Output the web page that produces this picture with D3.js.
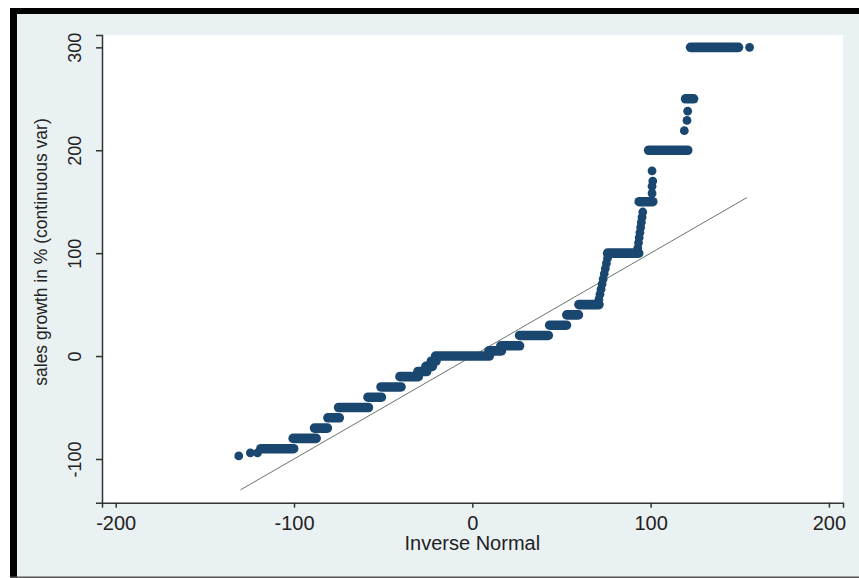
<!DOCTYPE html>
<html>
<head>
<meta charset="utf-8">
<script src="https://cdn.jsdelivr.net/npm/d3@7"></script>
<style>
    html, body { margin: 0; padding: 0; background: #ffffff; }
    svg { display: block; font-family: "Liberation Sans", Arial, sans-serif; }
</style>
</head>
<body>
<div id="chart"></div>
<script>
// 軸の目盛り
const xTicks = [-200, -100, 0, 100, 200];
const yTicks = [-100, 0, 100, 200, 300];

// 同値が続く区間（点が重なって帯に見える部分）
const runLevel = [-90, -80, -70, -60, -50, -40, -30, -20, -15, -10, -5, 0, 5, 10, 20, 30, 40, 50, 100, 150, 200, 250, 300];
const runFrom  = [-118.6, -100.5, -88.5, -81, -75, -58.5, -51.2, -40.6, -30.5, -26, -23, -20.6, 9.3, 16, 26.5, 43.4, 53, 59.8, 75.9, 93.6, 98.9, 119.6, 122.4];
const runTo    = [-100.2, -87.6, -81.3, -74.6, -58.3, -51, -40, -30.3, -25.6, -22.4, -20.4, 9.5, 16.3, 26.5, 42.6, 52.8, 59.5, 71, 93.3, 101.2, 120.8, 124.1, 149.3];

// 単独の点
const pointX = [-131, -124.5, -120.5, 71, 71.6, 72.2, 72.8, 73.4, 74, 74.6, 75.2, 75.8,
                92.8, 93.2, 93.6, 94, 94.4, 94.8, 95.2, 95.6, 100.8, 100.8, 101.2, 100.8,
                118.9, 120.4, 120.8, 148.8, 155.5];
const pointY = [-97, -94, -94, 55, 60, 65, 70, 75, 80, 85, 90, 95,
                105, 110, 115, 120, 125, 130, 135, 140, 158, 165, 170, 180,
                219, 229, 238, 300, 300];

// 参照線 (y = x)
const refX = [-130, 154];
const refY = [-130, 154];

const W = 859, H = 578;
const plot = { left: 102, right: 843, top: 35, bottom: 502.7 };
const dotColor = '#1a476f';

const svg = d3.select('#chart')
    .append('svg')
    .attr('width', W)
    .attr('height', H);

// 背景と枠
svg.append('rect').attr('width', W).attr('height', H).attr('fill', '#ffffff');
svg.append('rect').attr('x', 10).attr('y', 8).attr('width', W - 10).attr('height', H - 8).attr('fill', '#000000');
svg.append('rect').attr('x', 17).attr('y', 14).attr('width', W - 17).attr('height', H - 15).attr('fill', '#eaf1f3');
svg.append('rect').attr('x', 10).attr('y', H - 1.5).attr('width', W - 10).attr('height', 1.5).attr('fill', '#555555');

// プロット領域
svg.append('rect')
    .attr('x', plot.left)
    .attr('y', plot.top)
    .attr('width', plot.right - plot.left)
    .attr('height', plot.bottom - plot.top)
    .attr('fill', '#ffffff');

// スケール
const x = d3.scaleLinear().domain([-207.7, 207.9]).range([plot.left, plot.right]);
const y = d3.scaleLinear().domain([-142.5, 312]).range([plot.bottom, plot.top]);

// 参照線
svg.append('line')
    .attr('x1', x(refX[0])).attr('y1', y(refY[0]))
    .attr('x2', x(refX[1])).attr('y2', y(refY[1]))
    .attr('stroke', '#6a766a')
    .attr('stroke-width', 1);

// 重なった点の帯
svg.append('g')
    .selectAll('line')
    .data(runLevel.map((v, i) => ({ v, a: runFrom[i], b: runTo[i] })))
    .enter()
    .append('line')
    .attr('x1', d => x(d.a)).attr('x2', d => x(d.b))
    .attr('y1', d => y(d.v)).attr('y2', d => y(d.v))
    .attr('stroke', dotColor)
    .attr('stroke-width', 9.6)
    .attr('stroke-linecap', 'round');

// 単独の点
svg.append('g')
    .selectAll('circle')
    .data(pointX.map((px, i) => ({ px, py: pointY[i] })))
    .enter()
    .append('circle')
    .attr('cx', d => x(d.px))
    .attr('cy', d => y(d.py))
    .attr('r', 4.4)
    .attr('fill', dotColor);

// x軸
const xAxis = svg.append('g')
    .attr('transform', `translate(0,${plot.bottom})`)
    .call(d3.axisBottom(x).tickValues(xTicks).tickSize(5).tickPadding(8).tickFormat(d3.format('d')));
xAxis.select('.domain').attr('stroke', '#333333').attr('stroke-width', 1.5);
xAxis.selectAll('line').attr('stroke', '#333333').attr('stroke-width', 1.5);
xAxis.selectAll('text')
    .attr('fill', '#222222')
    .style('font-size', '20px')
    .text(d => d < 0 ? '-' + Math.abs(d) : d);

// y軸
const yAxis = svg.append('g')
    .attr('transform', `translate(${plot.left},0)`)
    .call(d3.axisLeft(y).tickValues(yTicks).tickSize(6).tickFormat(d3.format('d')));
yAxis.select('.domain').attr('stroke', '#333333').attr('stroke-width', 1.5);
yAxis.selectAll('line').attr('stroke', '#333333').attr('stroke-width', 1.5);
yAxis.selectAll('text')
    .attr('fill', '#222222')
    .attr('x', 0).attr('dy', 0)
    .attr('transform', 'translate(-21,0) rotate(-90)')
    .attr('text-anchor', 'middle')
    .style('font-size', '18px')
    .text(d => d < 0 ? '-' + Math.abs(d) : d);

// 軸タイトル
svg.append('text')
    .attr('x', x(0))
    .attr('y', 550)
    .attr('text-anchor', 'middle')
    .attr('fill', '#222222')
    .style('font-size', '20px')
    .text('Inverse Normal');

svg.append('text')
    .attr('transform', 'translate(47,252) rotate(-90)')
    .attr('text-anchor', 'middle')
    .attr('fill', '#222222')
    .style('font-size', '17.5px')
    .text('sales growth in % (continuous var)');
</script>
</body>
</html>
